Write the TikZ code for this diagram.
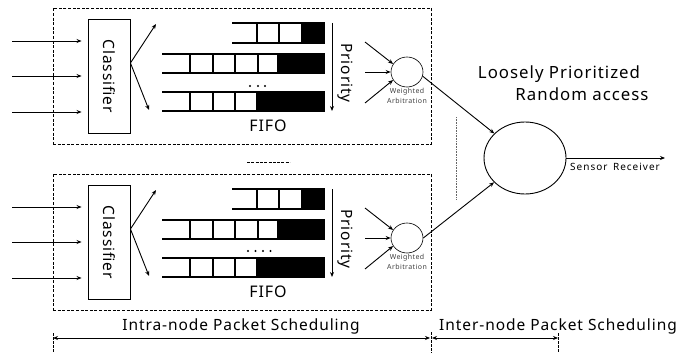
\documentclass[tikz,border=0pt]{standalone}
\usepackage{fontspec}
\setmainfont{Noto Sans}[LetterSpace=6]
\usetikzlibrary{arrows.meta,calc,shapes.geometric}

\begin{document}
\begin{tikzpicture}[x=1pt,y=-1pt,
  tip/.style={-{Stealth[length=5pt,width=4pt]}},
  dbltip/.style={{Stealth[length=5pt,width=4pt]}-{Stealth[length=5pt,width=4pt]}},
  conn/.style={line width=0.9pt, tip},
  framebox/.style={draw, line width=0.8pt, dash pattern=on 3pt off 1.6pt, inner sep=0pt},
  clsbox/.style={draw, line width=0.9pt, inner sep=0pt, minimum width=42pt, minimum height=114pt},
  qline/.style={line width=1.2pt},
  arbnode/.style={draw, line width=0.6pt, ellipse, inner sep=0pt, minimum width=32pt, minimum height=30pt},
  tinylbl/.style={font=\fontsize{7}{8}\selectfont, text=black!75, inner sep=0pt},
  midlbl/.style={font=\fontsize{15.5}{18}\selectfont, inner sep=0pt},
  biglbl/.style={font=\fontsize{15.5}{18}\selectfont, inner sep=0pt},
  tick/.style={line width=0.8pt, dash pattern=on 2.5pt off 1.5pt}]
\useasboundingbox (0,0) rectangle (682,353);

% two identical intra-node schedulers, stacked
\foreach \s/\dy in {t/0,b/166}{
\begin{scope}[shift={(0,\dy)}]
  \node[framebox, minimum width=378pt, minimum height=136pt] (box\s) at (242,76) {};
  \node[clsbox] (cl\s) at (109,76) {};
  \node[midlbl, rotate=-90] at (cl\s) {Classifier};

  % incoming traffic
  \foreach \k/\yy in {1/41,2/76,3/112}{
    \coordinate (in\k\s) at (12,\yy);
    \draw[conn, shorten >=6pt] (in\k\s) -- (in\k\s -| cl\s.west);
  }

  % classifier fan-out
  \coordinate (ap\s) at ($(cl\s.east)+(0,-13)$);
  \coordinate (up\s) at (156,24);
  \coordinate (dn\s) at (149,110);
  \draw[conn] (ap\s) -- (up\s);
  \draw[conn] (ap\s) -- (dn\s);

  % priority queues
  \fill (302,23) rectangle (324,43);
  \draw[qline] (232,23) -- (324,23) -- (324,43) -- (232,43);
  \foreach \x in {257,279,302} \draw[qline] (\x,23) -- (\x,43);

  \fill (278,54) rectangle (324,73);
  \draw[qline] (162,54) -- (324,54) -- (324,73) -- (162,73);
  \foreach \x in {190,213,235,258,278} \draw[qline] (\x,54) -- (\x,73);

  \fill (257,92) rectangle (324,111);
  \draw[qline] (162,92) -- (324,92) -- (324,111) -- (162,111);
  \foreach \x in {190,213,235,257} \draw[qline] (\x,92) -- (\x,111);

  \node[biglbl, font=\fontsize{16}{19}\selectfont] at (268,126) {FIFO};

  % priority direction
  \coordinate (ph\s) at (332,23);
  \coordinate (pt\s) at (332,111);
  \draw[line width=0.9pt, tip] (ph\s) -- (pt\s);
  \node[midlbl, rotate=-90] at (345,73) {Priority};

  % weighted arbitration
  \node[arbnode] (wa\s) at (407,72) {};
  \node[tinylbl] at (407,92) {Weighted};
  \node[tinylbl] at (407,101) {Arbitration};
  \coordinate (a1\s) at (365,42);
  \coordinate (a2\s) at (365,72);
  \coordinate (a3\s) at (365,103);
  \draw[conn] (a1\s) -- (wa\s.150);
  \draw[conn] (a2\s) -- (wa\s.west);
  \draw[conn] (a3\s) -- (wa\s.210);
\end{scope}
}

% queue ellipsis dots
\foreach \x in {250,258,265} \fill (\x,86) circle (1.1pt);
\foreach \x in {248,255.5,263,270.5} \fill (\x,251) circle (1.1pt);

% gap marker between the two nodes
\coordinate (g1) at (247,162);
\coordinate (g2) at (290,162);
\draw[line width=0.8pt, dash pattern=on 3pt off 1.3pt] (g1) -- (g2);

% shared receiver
\node[draw, line width=0.9pt, ellipse, minimum width=82pt, minimum height=72pt, inner sep=0pt] (rx) at (525,158) {};
\draw[conn] (wat.-15) -- (rx);
\draw[conn] (wab.east) -- (rx);
\coordinate (sink) at (665,158);
\draw[conn] (rx.east) -- (sink);
\node[font=\fontsize{10}{12}\selectfont\addfontfeature{LetterSpace=10}, inner sep=0pt] at (615,167) {Sensor\hspace{2pt} Receiver};

\node[biglbl, font=\fontsize{16.8}{20}\selectfont] at (559,74) {Loosely Prioritized};
\node[biglbl, font=\fontsize{16.8}{20}\selectfont] at (582,94) {Random access};

\coordinate (v1) at (456,117);
\coordinate (v2) at (456,200);
\draw[black!60, line width=0.8pt, dash pattern=on 0.8pt off 0.8pt] (v1) -- (v2);

% scheduling spans
\coordinate (s0) at (53,333);
\coordinate (s0b) at (53,353);
\coordinate (s1) at (431,332);
\coordinate (s1b) at (431,353);
\coordinate (s2) at (558,333);
\coordinate (s2b) at (558,353);
\draw[tick] (s0) -- (s0b);
\draw[tick] (s1) -- (s1b);
\draw[tick] (s2) -- (s2b);
\draw[line width=0.8pt, dbltip] ($(s0)+(0,5)$) -- ($(s1)+(-1,6)$);
\draw[line width=0.8pt, dbltip] ($(s1)+(1,6)$) -- ($(s2)+(0,5)$);
\node[biglbl] at (241,326) {Intra-node Packet Scheduling};
\node[biglbl] at (558,326) {Inter-node Packet Scheduling};
\end{tikzpicture}
\end{document}
